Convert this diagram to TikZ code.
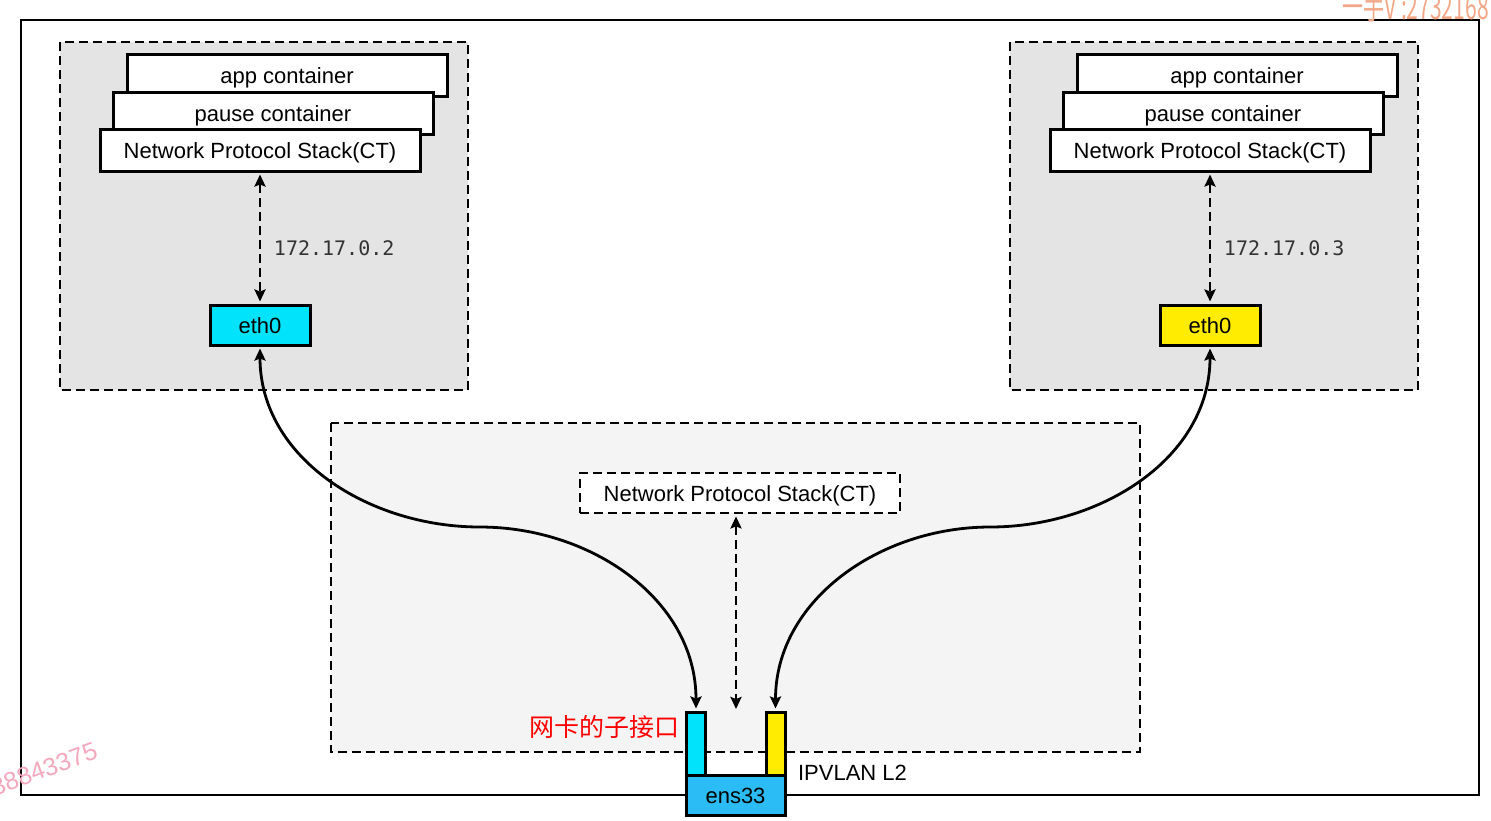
\documentclass[tikz,border=0pt]{standalone}
\usepackage{fontspec}
\setmainfont{Liberation Sans}
\setmonofont{DejaVu Sans Mono}
\newfontfamily\cjk{Noto Sans CJK SC}
\usetikzlibrary{arrows.meta}
\definecolor{podgray}{HTML}{E4E4E4}
\definecolor{hostgray}{HTML}{F4F4F4}
\definecolor{ethcyan}{HTML}{00E3FA}
\definecolor{ethyellow}{HTML}{FFEC00}
\definecolor{nicblue}{HTML}{2BBCF5}
\definecolor{wmorange}{HTML}{F2A888}
\definecolor{wmpink}{HTML}{F4A8BC}
\tikzstyle{arrow} = [<->,>={Stealth[length=6pt,width=5.5pt,inset=1pt]},line width=1.4pt,shorten <=1pt,shorten >=1pt]
\tikzstyle{dasharrow} = [arrow,line width=1.3pt,dash pattern=on 4.5pt off 2.5pt]
\tikzstyle{dashbox} = [draw,line width=1.4pt,dash pattern=on 4.5pt off 2.5pt]
\tikzstyle{layer} = [draw,fill=white,line width=1.5pt,minimum width=160pt,minimum height=21pt,inner sep=0pt,text height=8pt,text depth=0pt,font=\fontsize{11}{13}\selectfont]
\tikzstyle{nic} = [draw,line width=1.5pt,minimum width=50pt,minimum height=20pt,inner sep=0pt,text height=8pt,text depth=0pt,font=\fontsize{11}{13}\selectfont]
\tikzstyle{subif} = [draw,line width=1.5pt,minimum width=9.5pt,minimum height=31.5pt,inner sep=0pt]

\begin{document}
\begin{tikzpicture}[x=0.5pt,y=-0.5pt]
        \useasboundingbox (0,0) rectangle (1491,820);
        \draw[line width=1.1pt] (21,20) rectangle (1479,795);

        % pods
        \draw[dashbox, fill=podgray] (60,42) rectangle (468,390);
        \draw[dashbox, fill=podgray] (1010,42) rectangle (1418,390);
        \node[layer] at (287,75) (appl) {app container};
        \node[layer] at (273,113) (pausel) {pause container};
        \node[layer] at (260,150) (npsl) {Network Protocol Stack(CT)};
        \node[layer] at (1237,75) (appr) {app container};
        \node[layer] at (1223,113) (pauser) {pause container};
        \node[layer] at (1210,150) (npsr) {Network Protocol Stack(CT)};
        \node[nic, fill=ethcyan] at (260,325) (ethl) {eth0};
        \node[nic, fill=ethyellow] at (1210,325) (ethr) {eth0};

        \draw[dasharrow] (npsl) -- (ethl) node[pos=0.58, anchor=west, xshift=3pt, font=\ttfamily\fontsize{10}{12}\selectfont, text=black!80]{172.17.0.2};
        \draw[dasharrow] (npsr) -- (ethr) node[pos=0.58, anchor=west, xshift=3pt, font=\ttfamily\fontsize{10}{12}\selectfont, text=black!80]{172.17.0.3};

        % host
        \draw[dashbox, fill=hostgray] (331,423) rectangle (1140,752);
        \node[layer, dashbox, fill=white, minimum height=20pt] at (740,493) (npsh) {Network Protocol Stack(CT)};
        \coordinate (hostend) at (736,711);
        \draw[dasharrow] (npsh.south -| hostend) -- (hostend);

        \node[subif, fill=ethcyan] at (696,743.5) (subl) {};
        \node[subif, fill=ethyellow] at (775.5,743.5) (subr) {};
        \node[nic, fill=nicblue, minimum width=49.5pt] at (735.5,795) (ens) {ens33};
        \node[anchor=west, font=\fontsize{11}{13}\selectfont] at (791,773) (mode) {IPVLAN L2};
        \node[anchor=east, text=red, font=\cjk\fontsize{12.5}{14}\selectfont, inner sep=1pt] at (682,727) (sublabel) {网卡的子接口};

        \coordinate (bendl) at (480,527);
        \coordinate (bendr) at (990,527);
        \draw[arrow] (ethl.south) to[out=-90, in=180] (bendl) to[out=0, in=90] (subl.north);
        \draw[arrow] (ethr.south) to[out=-90, in=0] (bendr) to[out=180, in=90] (subr.north);

        % watermarks
        \node[anchor=base east, text=wmorange, font=\cjk\fontsize{17}{17}\selectfont, xscale=0.62, inner sep=0pt] at (1489,19) (wma) {一手V :2732168};
        \node[text=wmpink, font=\fontsize{12.5}{14}\selectfont, rotate=20] at (44,769) (wmb) {38843375};
    \end{tikzpicture}
\end{document}
